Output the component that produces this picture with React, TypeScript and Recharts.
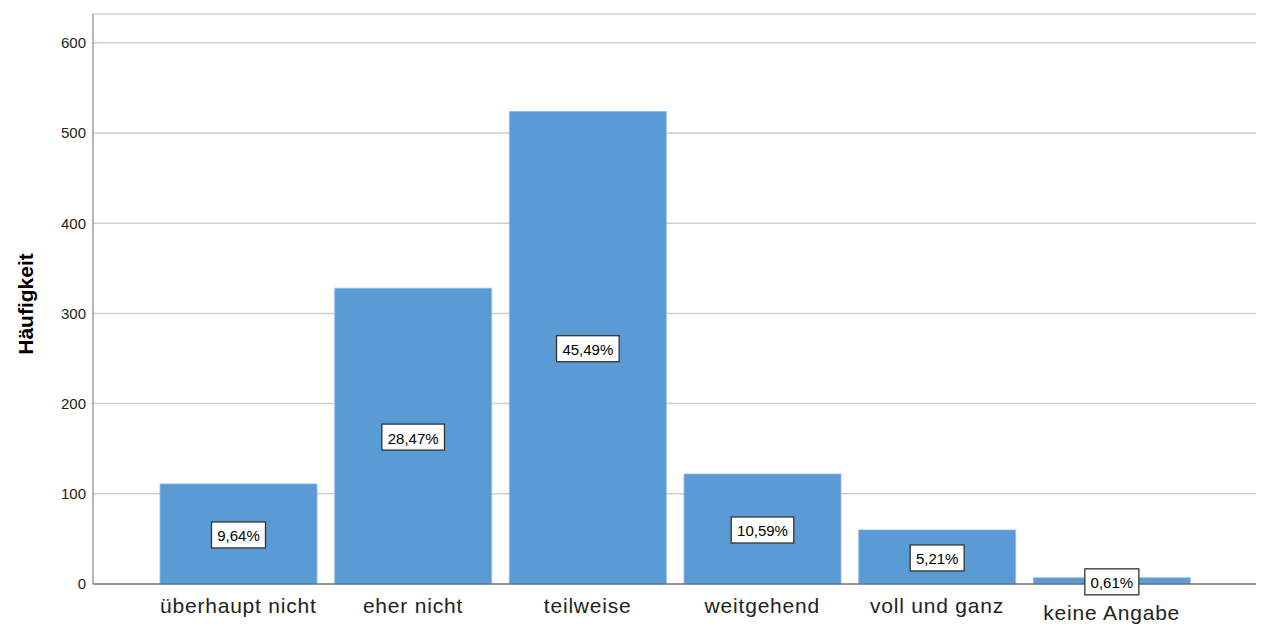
import React from 'react';
import { BarChart, Bar, XAxis, YAxis, CartesianGrid, LabelList, Label } from 'recharts';

const categories = ['überhaupt nicht', 'eher nicht', 'teilweise', 'weitgehend', 'voll und ganz', 'keine Angabe'];
const counts = [111, 328, 524, 122, 60, 7];
const percentLabels = ['9,64%', '28,47%', '45,49%', '10,59%', '5,21%', '0,61%'];
const yTicks = [0, 100, 200, 300, 400, 500, 600];

const data = categories.map((c, i) => ({ name: c, value: counts[i], pct: percentLabels[i] }));

const FONT = '"Liberation Sans", Arial, sans-serif';

const PctLabel = (props: any) => {
  const { x, y, width, height, index } = props;
  const text = percentLabels[index];
  const cx = x + width / 2;
  const cy = y + height / 2 + 1;
  const w = text.length * 8.6 + 11;
  const h = 26;
  return (
    <g>
      <rect x={cx - w / 2} y={cy - h / 2} width={w} height={h} fill="#ffffff" stroke="#333333" strokeWidth={1.3} />
      <text x={cx} y={cy + 1} textAnchor="middle" dominantBaseline="central" fontFamily={FONT} fontSize={15} fill="#000">
        {text}
      </text>
    </g>
  );
};

const XTick = (props: any) => {
  const { x, y, payload, index } = props;
  const extra = index === categories.length - 1 ? 7 : 0;
  return (
    <text x={x} y={y + 21 + extra} textAnchor="middle" fontFamily={FONT} fontSize={21} letterSpacing={0.8} fill="#222">
      {payload.value}
    </text>
  );
};

const YLabel = (props: any) => {
  const { viewBox } = props;
  const cy = viewBox.y + viewBox.height / 2 + 5;
  const cx = 17;
  return (
    <text x={cx} y={cy} transform={`rotate(-90, ${cx}, ${cy})`} textAnchor="middle" dominantBaseline="central" fontFamily={FONT} fontSize={21} fontWeight="bold" fill="#000">
      Häufigkeit
    </text>
  );
};

export default function App() {
  return (
    <BarChart width={1248} height={620} data={data} margin={{ top: 6, right: 0, bottom: 0, left: 0 }}>
      <CartesianGrid horizontal vertical={false} stroke="#cfcfcf" strokeWidth={1.5} />
      <XAxis
        dataKey="name"
        height={44}
        padding={{ left: 58, right: 57 }}
        tickLine={false}
        axisLine={{ stroke: '#555555', strokeWidth: 1.2 }}
        tick={<XTick />}
        interval={0}
      />
      <YAxis
        width={85}
        domain={[0, 632]}
        ticks={yTicks}
        tickLine={false}
        tickSize={0}
        tickMargin={7}
        axisLine={{ stroke: '#888888', strokeWidth: 1.2 }}
        tick={{ fontFamily: FONT, fontSize: 15, fill: '#222' }}
      >
        <Label content={<YLabel />} />
      </YAxis>
      <Bar dataKey="value" fill="#5b9bd5" stroke="#8fbde6" strokeWidth={0.8} barSize={157} isAnimationActive={false}>
        <LabelList dataKey="pct" content={<PctLabel />} />
      </Bar>
    </BarChart>
  );
}
